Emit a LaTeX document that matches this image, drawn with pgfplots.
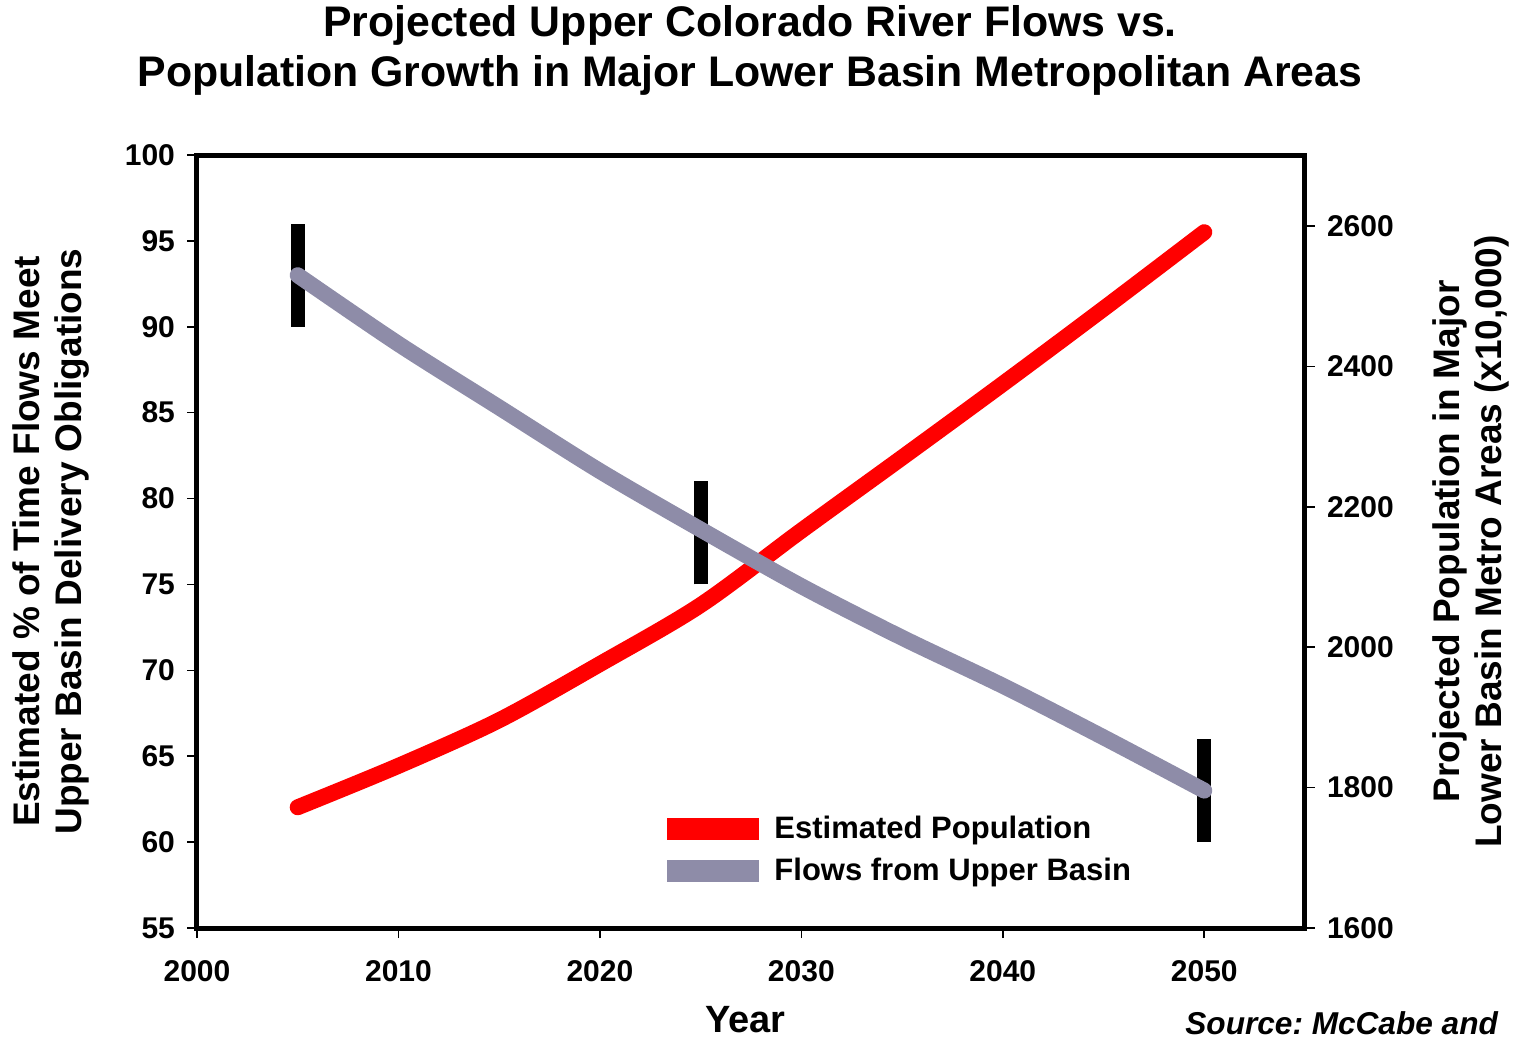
\documentclass[border=0pt]{standalone}
\usepackage{pgfplots}
\pgfplotsset{compat=1.18}
\usepackage{fontspec}
\setmainfont{Liberation Sans}
\frenchspacing
\definecolor{popred}{RGB}{255,0,0}
\definecolor{flowgray}{RGB}{142,140,168}

\pgfplotsset{
  base/.style={
    scale only axis, width=554pt, height=386.5pt,
    xmin=2000, xmax=2055,
    tick align=outside, major tick length=5pt,
    tick style={black, line width=0.8pt},
    /pgf/number format/assume math mode=true,
    /pgf/number format/1000 sep={},
    ticklabel style={font=\fontsize{15}{18}\selectfont\bfseries},
  },
}

\begin{document}
\begin{tikzpicture}
\useasboundingbox (-98.5pt,-56.5pt) rectangle (659.5pt,464pt);

% right axis: population
\begin{axis}[base,
  ymin=1600, ymax=2701,
  hide x axis, axis y line*=right,
  y axis line style={line width=2.5pt},
  ytick={1600,1800,...,2600},
  yticklabel style={xshift=2.5pt},
  ylabel={Projected Population in Major\\Lower Basin Metro Areas (x10,000)},
  ylabel style={at={(axis description cs:1.1498,0.5)}, anchor=center,
    align=center, font=\fontsize{18.5}{21}\selectfont\bfseries},
]
\addplot[popred, line width=8pt, smooth, line cap=round] coordinates {
  (2005,1772) (2010,1831) (2015,1896) (2020,1976) (2025,2060)
  (2030,2166) (2035,2270) (2040,2375) (2045,2482) (2050,2591)
};
\end{axis}

% left axis: flows
\begin{axis}[base,
  ymin=55, ymax=100,
  xtick={2000,2010,...,2050}, ytick={55,60,...,100},
  xtick pos=bottom, ytick pos=left,
  axis line style={line width=2.5pt},
  yticklabel style={xshift=-2.5pt},
  xticklabel style={yshift=-7.5pt},
  unbounded coords=jump,
  xlabel={Year},
  xlabel style={at={(axis description cs:0.495,-0.119)}, anchor=center,
    font=\fontsize{19}{22}\selectfont\bfseries},
  ylabel={Estimated \% of Time Flows Meet\\Upper Basin Delivery Obligations},
  ylabel style={at={(axis description cs:-0.1318,0.5)}, anchor=center,
    align=center, font=\fontsize{18.5}{21}\selectfont\bfseries},
  legend cell align=left,
  legend image code/.code={\draw[#1, line width=11pt, line cap=butt] (0pt,0pt) -- (46pt,0pt);},
  legend style={draw=none, fill=none, at={(axis description cs:0.4089,0.1553)},
    anchor=north west, row sep=4pt,
    font=\fontsize{15.5}{18}\selectfont\bfseries},
]
\addlegendimage{popred}
\addlegendentry{Estimated Population}
% uncertainty bars
\addplot[black, line width=7pt, line cap=butt, forget plot] coordinates {
  (2005,90) (2005,96) (2005,nan)
  (2025,75) (2025,81) (2025,nan)
  (2050,60) (2050,66)
};
\addplot[flowgray, line width=8pt, smooth, line cap=round] coordinates {
  (2005,93.0) (2010,89.0) (2015,85.3) (2020,81.6) (2025,78.2)
  (2030,74.9) (2035,71.9) (2040,69.1) (2045,66.1) (2050,63.0)
};
\addlegendentry{Flows from Upper Basin}
\end{axis}

\node[align=center, font=\fontsize{21.4}{25}\selectfont\bfseries] at (276.5pt,439pt)
  {Projected Upper Colorado River Flows vs.\\Population Growth in Major Lower Basin Metropolitan Areas};
\node[anchor=east, font=\fontsize{15.8}{18}\selectfont\bfseries\itshape] at (654pt,-47.5pt) {Source: McCabe and};
\end{tikzpicture}
\end{document}
